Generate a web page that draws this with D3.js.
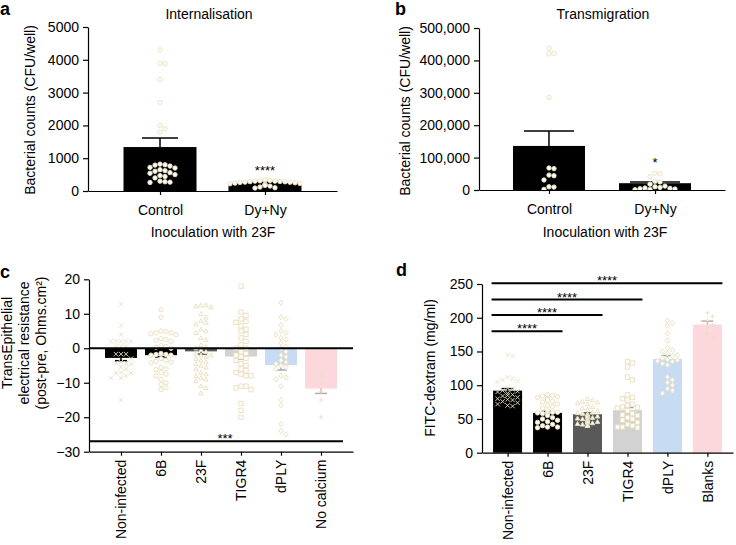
<!DOCTYPE html>
<html>
<head>
<meta charset="utf-8">
<script src="https://cdn.jsdelivr.net/npm/d3@7"></script>
<style>
body { margin: 0; background: #fff; }
text { font-family: "Liberation Sans", Arial, Helvetica, sans-serif; fill: #000; }
</style>
</head>
<body>
<svg id="fig" width="736" height="545"></svg>
<script>
// ---- panel a: internalisation ----
var intCats = ["Control", "Dy+Ny"];
var intMeans = [1340, 245];
var intSem = [275, 25];
var intControl = [4300, 3900, 3880, 3400, 2700, 2000, 1900, 1800, 820, 800, 790, 760, 720, 700, 650, 620, 600, 560, 540, 500, 470, 440, 400, 300, 280, 270, 260];
var intDyNy = [340, 320, 310, 300, 300, 290, 285, 280, 270, 265, 260, 250, 240, 230, 220, 200, 190, 170, 150, 120, 100, 90];
var intTicks = [0, 1000, 2000, 3000, 4000, 5000];

// ---- panel b: transmigration ----
var tmCats = ["Control", "Dy+Ny"];
var tmMeans = [136000, 21000];
var tmSem = [46000, 4000];
var tmControl = [437000, 422000, 420000, 286000, 68000, 66000, 46000, 44000, 31000, 10000, 9000, 2000];
var tmDyNy = [52000, 50000, 41000, 27000, 25000, 18000, 12000, 10000, 8000, 6000, 5000, 4000, 3000, 2000, 1000];
var tmTicks = [0, 100000, 200000, 300000, 400000, 500000];

// ---- panel c: TEER ----
var teerCats = ["Non-infected", "6B", "23F", "TIGR4", "dPLY", "No calcium"];
var teerMeans = [-2.8, -2, -0.9, -2.4, -4.9, -11.7];
var teerSem = [0.8, 0.5, 0.8, 0.8, 1.4, 1.4];
var teerNonInf = [12.8, 6.6, 4, 2, 2, 2, 2, 2, 0.5, 0.5, 0.5, -1.7, -1.7, -1.7, -3, -4, -4.3, -4.3, -4.5, -5.5, -6, -7, -7.2, -7.2, -8, -8.6, -8.6, -15];
var teer6B = [11.2, 9, 5, 4.8, 4.5, 4.5, 4.2, 4, 2.8, 2.5, 2.3, 2, 0.8, 0.5, 0.3, 0, -1.5, -1.8, -1.8, -2, -2, -3, -3.5, -3.8, -4, -4.2, -5.5, -6, -6.2, -7, -7.5, -8, -9, -10, -10.5, -11.5, -12];
var teer23F = [12.5, 12.5, 12.2, 12, 10, 9, 8, 7.5, 7, 5.5, 5, 4.5, 3, 2.5, 1, 0.5, 0, -0.5, -1, -1.5, -2, -2, -2.5, -3, -3.5, -4, -4.5, -5, -5.5, -6, -7, -7.5, -8, -8.5, -9, -9.5, -11, -11.5, -13];
var teerTIGR4 = [18, 10.5, 9.5, 8.5, 7.8, 7.5, 6.5, 5.5, 5, 4, 3, 2, 1, 0, 0, -1, -1.5, -2, -2.5, -3, -3.5, -4.5, -5, -6, -6.5, -7, -7.5, -8, -8, -11, -11, -11.5, -12, -16, -18, -20];
var teerDPLY = [13.2, 9, 8.5, 6.8, 5, 4.5, 4, 3, 2.5, 1.5, 0.5, 0, -1, -2, -2.5, -3.5, -4, -4.5, -5, -5.5, -6, -8, -8.5, -9, -11, -15, -16.5, -22, -24, -25];
var teerNoCa = [-8, -10, -12.5, -15, -20];
var teerTicks = [-30, -20, -10, 0, 10, 20];

// ---- panel d: FITC-dextran ----
var fitcCats = ["Non-infected", "6B", "23F", "TIGR4", "dPLY", "Blanks"];
var fitcMeans = [92, 59, 57, 63, 139, 190];
var fitcSem = [3, 2, 2, 4, 5, 5];
var fitcNonInf = [145, 143, 112, 110, 108, 106, 105, 96, 94, 92, 91, 90, 88, 86, 85, 84, 82, 80, 79, 78, 76, 74, 72, 70, 69];
var fitc6B = [86, 85, 84, 83, 82, 80, 80, 78, 76, 75, 72, 70, 68, 66, 62, 60, 60, 59, 58, 58, 55, 52, 50, 48, 46, 45, 42, 40, 38, 38, 37];
var fitc23F = [80, 78, 76, 75, 74, 72, 68, 66, 64, 62, 60, 59, 58, 57, 56, 55, 54, 53, 52, 51, 50, 50, 49, 48, 47, 46, 45, 45, 44, 43, 42, 41, 40, 40];
var fitcTIGR4 = [135, 133, 127, 112, 108, 86, 82, 80, 78, 72, 70, 68, 67, 66, 62, 58, 56, 55, 52, 50, 48, 45, 42, 40, 38, 38, 37];
var fitcDPLY = [196, 192, 188, 177, 166, 155, 152, 150, 147, 145, 143, 140, 138, 137, 136, 135, 132, 130, 112, 108, 104, 100, 95, 92, 88];
var fitcBlanks = [207, 202, 196, 189, 186, 177, 170];
var fitcTicks = [0, 50, 100, 150, 200, 250];
// comparison brackets: Non-infected vs each, at these heights
var fitcSigTo = ["6B", "23F", "TIGR4", "Blanks"];
var fitcSigAt = [180, 204, 227, 251];

var groupColors = ["#000000", "#000000", "#595959", "#d2d2d2", "#c7dbf3", "#fcd7dc"];
var dotStroke = "#e8dfc1";
var dotFill = "#fffdf6";

var svg = d3.select("#fig");

// marker outlines, half size s
function marker(shape, s) {
  if (shape == "circle") return "M" + s + ",0A" + s + "," + s + " 0 1,1 " + (-s) + ",0A" + s + "," + s + " 0 1,1 " + s + ",0Z";
  if (shape == "times") return "M" + (-s) + "," + (-s) + "L" + s + "," + s + "M" + (-s) + "," + s + "L" + s + "," + (-s);
  if (shape == "triangle") return "M0," + (-s) + "L" + s + "," + (s * 0.8) + "L" + (-s) + "," + (s * 0.8) + "Z";
  if (shape == "square") return "M" + (-s) + "," + (-s) + "H" + s + "V" + s + "H" + (-s) + "Z";
  if (shape == "diamond") return "M0," + (-s * 1.2) + "L" + s + ",0L0," + (s * 1.2) + "L" + (-s) + ",0Z";
  return "M" + (-s) + ",0H" + s + "M0," + (-s) + "V" + s; // plus
}

// simple beeswarm: keep points on their value, step sideways until free
function swarm(values, y, r, half) {
  var placed = [];
  var step = 2 * r + 0.6;
  values.slice().sort(d3.descending).forEach(function(v) {
    var py = y(v), dx = 0;
    for (var k = 0; k < 40; k++) {
      var off = (k % 2 == 1 ? 1 : -1) * Math.ceil(k / 2) * step;
      if (Math.abs(off) > half) break;
      var free = placed.every(function(p) {
        var a = p.dx - off, b = p.py - py;
        return a * a + b * b >= step * step;
      });
      if (free) { dx = off; break; }
    }
    placed.push({ v: v, dx: dx, py: py });
  });
  return placed;
}

function styleAxis(ax) {
  ax.attr("font-family", null).attr("font-size", null);
  ax.select(".domain").attr("stroke", "#000").attr("stroke-width", 1.2);
  ax.selectAll(".tick line").attr("stroke", "#000").attr("stroke-width", 1.2);
  ax.selectAll(".tick text").style("font-size", "14px");
}

function drawPanel(opt) {
  var g = svg.append("g");
  var x = d3.scalePoint().domain(opt.cats).range(opt.xRange).padding(opt.pad);
  var y = d3.scaleLinear().domain(opt.yDomain).range(opt.yRange);

  // bars
  g.selectAll("rect.bar").data(opt.means).enter().append("rect")
    .attr("class", "bar")
    .attr("x", function(d, i) { return x(opt.cats[i]) - opt.barW / 2; })
    .attr("y", function(d) { return Math.min(y(0), y(d)); })
    .attr("width", opt.barW)
    .attr("height", function(d) { return Math.abs(y(d) - y(0)); })
    .attr("fill", function(d, i) { return opt.colors[i]; });

  // error bars (mean + sem, away from zero)
  opt.means.forEach(function(m, i) {
    var cx = x(opt.cats[i]);
    var end = m + (m < 0 ? -1 : 1) * opt.sem[i];
    var col = opt.colors[i] == "#000000" ? "#000" : d3.color(opt.colors[i]).darker(0.7);
    g.append("line").attr("x1", cx).attr("x2", cx).attr("y1", y(m)).attr("y2", y(end))
      .attr("stroke", col).attr("stroke-width", 1.5);
    g.append("line").attr("x1", cx - opt.capW / 2).attr("x2", cx + opt.capW / 2)
      .attr("y1", y(end)).attr("y2", y(end))
      .attr("stroke", col).attr("stroke-width", 1.5);
  });

  // individual points
  opt.groups.forEach(function(vals, i) {
    var cx = x(opt.cats[i]);
    var shape = opt.shapes[i];
    var open = shape == "times" || shape == "plus";
    g.selectAll(null).data(swarm(vals, y, opt.r, opt.barW / 2)).enter().append("path")
      .attr("transform", function(d) { return "translate(" + (cx + d.dx) + "," + d.py + ")"; })
      .attr("d", marker(shape, opt.r))
      .attr("fill", open ? "none" : dotFill)
      .attr("stroke", dotStroke)
      .attr("stroke-width", 0.9);
  });

  // axes
  var ay = g.append("g").attr("transform", "translate(" + opt.xRange[0] + ",0)")
    .call(d3.axisLeft(y).tickValues(opt.ticks).tickFormat(opt.fmt).tickSize(5).tickSizeOuter(0).tickPadding(4));
  styleAxis(ay);
  var ax = g.append("g").attr("transform", "translate(0," + y(opt.yDomain[0]) + ")")
    .call(d3.axisBottom(x).tickSize(4).tickSizeOuter(0).tickPadding(opt.rotate ? 8 : 10));
  styleAxis(ax);
  if (opt.rotate) {
    ax.selectAll(".tick text")
      .attr("transform", "rotate(-90)")
      .attr("text-anchor", "end")
      .attr("x", -8).attr("y", 0).attr("dy", "0.35em");
  }
  return { g: g, x: x, y: y };
}

function stars(g, txt, x, y) {
  g.append("text").attr("x", x).attr("y", y).attr("text-anchor", "middle")
    .style("font-size", "13px").text(txt);
}

function letter(t, x, y) {
  svg.append("text").attr("x", x).attr("y", y).style("font-size", "18px")
    .style("font-weight", "bold").text(t);
}

function yLabel(lines, x0, cy, gap) {
  lines.forEach(function(s, i) {
    svg.append("text")
      .attr("transform", "translate(" + (x0 + i * gap) + "," + cy + ") rotate(-90)")
      .attr("text-anchor", "middle").style("font-size", "14px").text(s);
  });
}

// ---------- a ----------
var pa = drawPanel({
  cats: intCats, means: intMeans, sem: intSem, groups: [intControl, intDyNy],
  colors: ["#000000", "#000000"], shapes: ["circle", "circle"],
  xRange: [88, 337], pad: 0.686, yDomain: [0, 5000], yRange: [191, 27],
  ticks: intTicks, fmt: d3.format("d"), barW: 73, capW: 36, r: 2.2
});
stars(pa.g, "****", pa.x("Dy+Ny"), 175);
svg.append("text").attr("x", 209).attr("y", 19).attr("text-anchor", "middle")
  .style("font-size", "14px").text("Internalisation");
svg.append("text").attr("x", 213).attr("y", 237).attr("text-anchor", "middle")
  .style("font-size", "14px").text("Inoculation with 23F");
yLabel(["Bacterial counts (CFU/well)"], 35, 110, 0);
letter("a", 0, 15);

// ---------- b ----------
var pb = drawPanel({
  cats: tmCats, means: tmMeans, sem: tmSem, groups: [tmControl, tmDyNy],
  colors: ["#000000", "#000000"], shapes: ["circle", "circle"],
  xRange: [479, 725], pad: 0.66, yDomain: [0, 500000], yRange: [190, 28],
  ticks: tmTicks, fmt: d3.format(","), barW: 72, capW: 50, r: 2.2
});
stars(pb.g, "*", pb.x("Dy+Ny"), 167);
svg.append("text").attr("x", 603).attr("y", 19).attr("text-anchor", "middle")
  .style("font-size", "14px").text("Transmigration");
svg.append("text").attr("x", 605).attr("y", 237).attr("text-anchor", "middle")
  .style("font-size", "14px").text("Inoculation with 23F");
yLabel(["Bacterial counts (CFU/well)"], 410, 111, 0);
letter("b", 395, 15);

// ---------- c ----------
var pc = drawPanel({
  cats: teerCats, means: teerMeans, sem: teerSem,
  groups: [teerNonInf, teer6B, teer23F, teerTIGR4, teerDPLY, teerNoCa],
  colors: groupColors, shapes: ["times", "circle", "triangle", "square", "diamond", "plus"],
  xRange: [89, 353], pad: 0.8, yDomain: [-30, 20], yRange: [451.7, 279.3],
  ticks: teerTicks, fmt: d3.format("d"), barW: 32, capW: 12, r: 2.2, rotate: true
});
pc.g.append("line").attr("x1", 89).attr("x2", 353)
  .attr("y1", pc.y(0)).attr("y2", pc.y(0)).attr("stroke", "#000").attr("stroke-width", 2);
pc.g.append("line").attr("x1", 89).attr("x2", 343)
  .attr("y1", pc.y(-27)).attr("y2", pc.y(-27)).attr("stroke", "#000").attr("stroke-width", 2);
stars(pc.g, "***", 225, pc.y(-27) + 2);
yLabel(["TransEpithelial", "electrical resistance", "(post-pre, Ohms.cm\u00b2)"], 12, 343, 17);
letter("c", 0, 278);

// ---------- d ----------
var pd = drawPanel({
  cats: fitcCats, means: fitcMeans, sem: fitcSem,
  groups: [fitcNonInf, fitc6B, fitc23F, fitcTIGR4, fitcDPLY, fitcBlanks],
  colors: groupColors, shapes: ["times", "circle", "triangle", "square", "diamond", "plus"],
  xRange: [482, 733], pad: 0.64, yDomain: [0, 250], yRange: [452.7, 284],
  ticks: fitcTicks, fmt: d3.format("d"), barW: 29, capW: 12, r: 2.2, rotate: true
});
fitcSigTo.forEach(function(c, i) {
  var x0 = pd.x(fitcCats[0]) - 16, x1 = pd.x(c) + 15;
  var yy = pd.y(fitcSigAt[i]);
  pd.g.append("line").attr("x1", x0).attr("x2", x1).attr("y1", yy).attr("y2", yy)
    .attr("stroke", "#000").attr("stroke-width", 2);
  stars(pd.g, "****", (x0 + x1) / 2, yy + 2);
});
yLabel(["FITC-dextram (mg/ml)"], 435, 368, 0);
letter("d", 396, 276);
</script>
</body>
</html>
